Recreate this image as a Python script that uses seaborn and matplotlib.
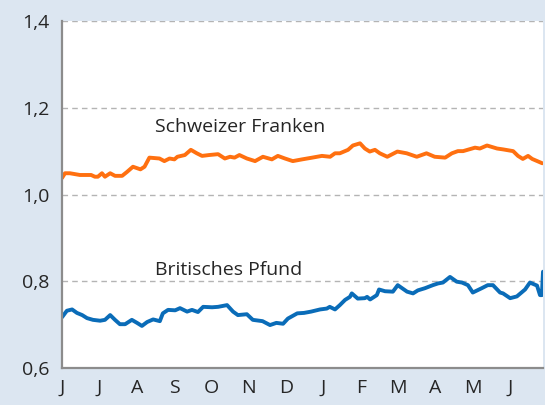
import numpy as np
import pandas as pd
import matplotlib
matplotlib.use("Agg")
import matplotlib.pyplot as plt
import seaborn as sns

# x positions in months since start (0 = beginning of June)
months = ["J", "J", "A", "S", "O", "N", "D", "J", "F", "M", "A", "M", "J"]

chf_t = [0.00, 0.08, 0.21, 0.48, 0.78, 0.88, 0.96, 1.07, 1.15, 1.29, 1.42, 1.61, 1.74, 1.90,
         2.10, 2.21, 2.34, 2.61, 2.74, 2.88, 3.01, 3.09, 3.29, 3.45, 3.61, 3.75, 3.94, 4.18,
         4.36, 4.50, 4.62, 4.75, 4.95, 5.17, 5.38, 5.62, 5.78, 5.97, 6.18, 6.43, 6.70, 6.96,
         7.18, 7.31, 7.44, 7.66, 7.79, 7.98, 8.11, 8.24, 8.38, 8.51, 8.71, 8.98, 9.23, 9.50,
         9.76, 9.98, 10.26, 10.44, 10.60, 10.74, 11.06, 11.19, 11.38, 11.65, 11.81, 12.08,
         12.21, 12.34, 12.48, 12.59, 12.86]
chf = [1.038, 1.049, 1.049, 1.045, 1.045, 1.041, 1.041, 1.049, 1.041, 1.049, 1.043, 1.043,
       1.052, 1.064, 1.058, 1.064, 1.085, 1.083, 1.077, 1.083, 1.081, 1.087, 1.091, 1.103,
       1.095, 1.089, 1.091, 1.093, 1.083, 1.087, 1.085, 1.091, 1.083, 1.077, 1.087, 1.081,
       1.089, 1.083, 1.077, 1.081, 1.085, 1.089, 1.087, 1.095, 1.095, 1.103, 1.113, 1.118,
       1.106, 1.099, 1.103, 1.095, 1.087, 1.099, 1.095, 1.087, 1.095, 1.087, 1.085, 1.095,
       1.100, 1.100, 1.108, 1.106, 1.113, 1.106, 1.104, 1.100, 1.089, 1.082, 1.089, 1.082,
       1.072]

gbp_t = [0.00, 0.13, 0.27, 0.40, 0.54, 0.67, 0.75, 0.83, 1.02, 1.15, 1.29, 1.42, 1.55, 1.69,
         1.87, 2.01, 2.14, 2.28, 2.44, 2.62, 2.70, 2.84, 3.03, 3.16, 3.35, 3.48, 3.64, 3.78,
         4.02, 4.18, 4.42, 4.58, 4.71, 4.95, 5.11, 5.37, 5.57, 5.74, 5.92, 6.05, 6.30, 6.48,
         6.67, 6.91, 7.09, 7.17, 7.31, 7.44, 7.58, 7.71, 7.76, 7.92, 8.11, 8.17, 8.25, 8.43,
         8.49, 8.65, 8.86, 8.99, 9.24, 9.40, 9.53, 9.72, 9.93, 10.07, 10.20, 10.39, 10.57,
         10.71, 10.87, 11.00, 11.24, 11.40, 11.54, 11.73, 11.81, 12.00, 12.18, 12.40, 12.53,
         12.72, 12.80, 12.85, 12.88]
gbp = [0.717, 0.732, 0.735, 0.727, 0.722, 0.715, 0.713, 0.711, 0.709, 0.711, 0.722, 0.711,
       0.701, 0.701, 0.711, 0.704, 0.697, 0.706, 0.712, 0.708, 0.726, 0.734, 0.733, 0.738,
       0.730, 0.734, 0.729, 0.741, 0.740, 0.741, 0.745, 0.730, 0.722, 0.724, 0.711, 0.708,
       0.699, 0.704, 0.702, 0.714, 0.726, 0.727, 0.730, 0.735, 0.737, 0.741, 0.735, 0.745,
       0.757, 0.764, 0.772, 0.760, 0.761, 0.764, 0.758, 0.768, 0.781, 0.777, 0.776, 0.791,
       0.776, 0.772, 0.779, 0.784, 0.791, 0.795, 0.797, 0.810, 0.799, 0.797, 0.791, 0.774,
       0.784, 0.791, 0.791, 0.774, 0.772, 0.761, 0.765, 0.781, 0.797, 0.790, 0.768, 0.768,
       0.822]
gbp_t = gbp_t[:len(gbp)]

df_chf = pd.DataFrame({"t": chf_t, "v": chf})
df_gbp = pd.DataFrame({"t": gbp_t, "v": gbp})

sns.set_style("white")
plt.rcParams["font.family"] = ["Open Sans", "DejaVu Sans"]

bg = "#dce6f1"
fig = plt.figure(figsize=(5.45, 4.05), dpi=100, facecolor=bg)
ax = fig.add_axes([62 / 545, 37 / 405, 481 / 545, 347 / 405])
ax.set_facecolor("white")

sns.lineplot(data=df_chf, x="t", y="v", color="#ff7010", linewidth=2.8, ax=ax)
sns.lineplot(data=df_gbp, x="t", y="v", color="#0a6cb8", linewidth=2.8, ax=ax)

ax.set_ylim(0.6, 1.4)
ax.set_xlim(0, 12.88)
ax.set_yticks([0.6, 0.8, 1.0, 1.2, 1.4])
ax.set_yticklabels(["0,6", "0,8", "1,0", "1,2", "1,4"], fontsize=14)
ax.yaxis.grid(True, color="#b4b4b4", linestyle=(0, (4, 3)), linewidth=1.0)
ax.set_axisbelow(True)

ax.set_xticks(np.arange(0, 13))
ax.set_xticklabels(months, fontsize=14)
ax.tick_params(axis="x", length=5, width=1.2, color="#808080", direction="out", pad=3)
ax.tick_params(axis="y", length=5, width=1.2, color="#808080", direction="out", pad=4)

for s in ["top", "right"]:
    ax.spines[s].set_visible(False)
for s in ["left", "bottom"]:
    ax.spines[s].set_color("#8c8c8c")
    ax.spines[s].set_linewidth(1.6)

ax.set_xlabel("")
ax.set_ylabel("")

ax.text(2.5, 1.155, "Schweizer Franken", fontsize=14, ha="left", va="center")
ax.text(2.5, 0.826, "Britisches Pfund", fontsize=14, ha="left", va="center")

fig.savefig("out.png", dpi=100, facecolor=bg)
